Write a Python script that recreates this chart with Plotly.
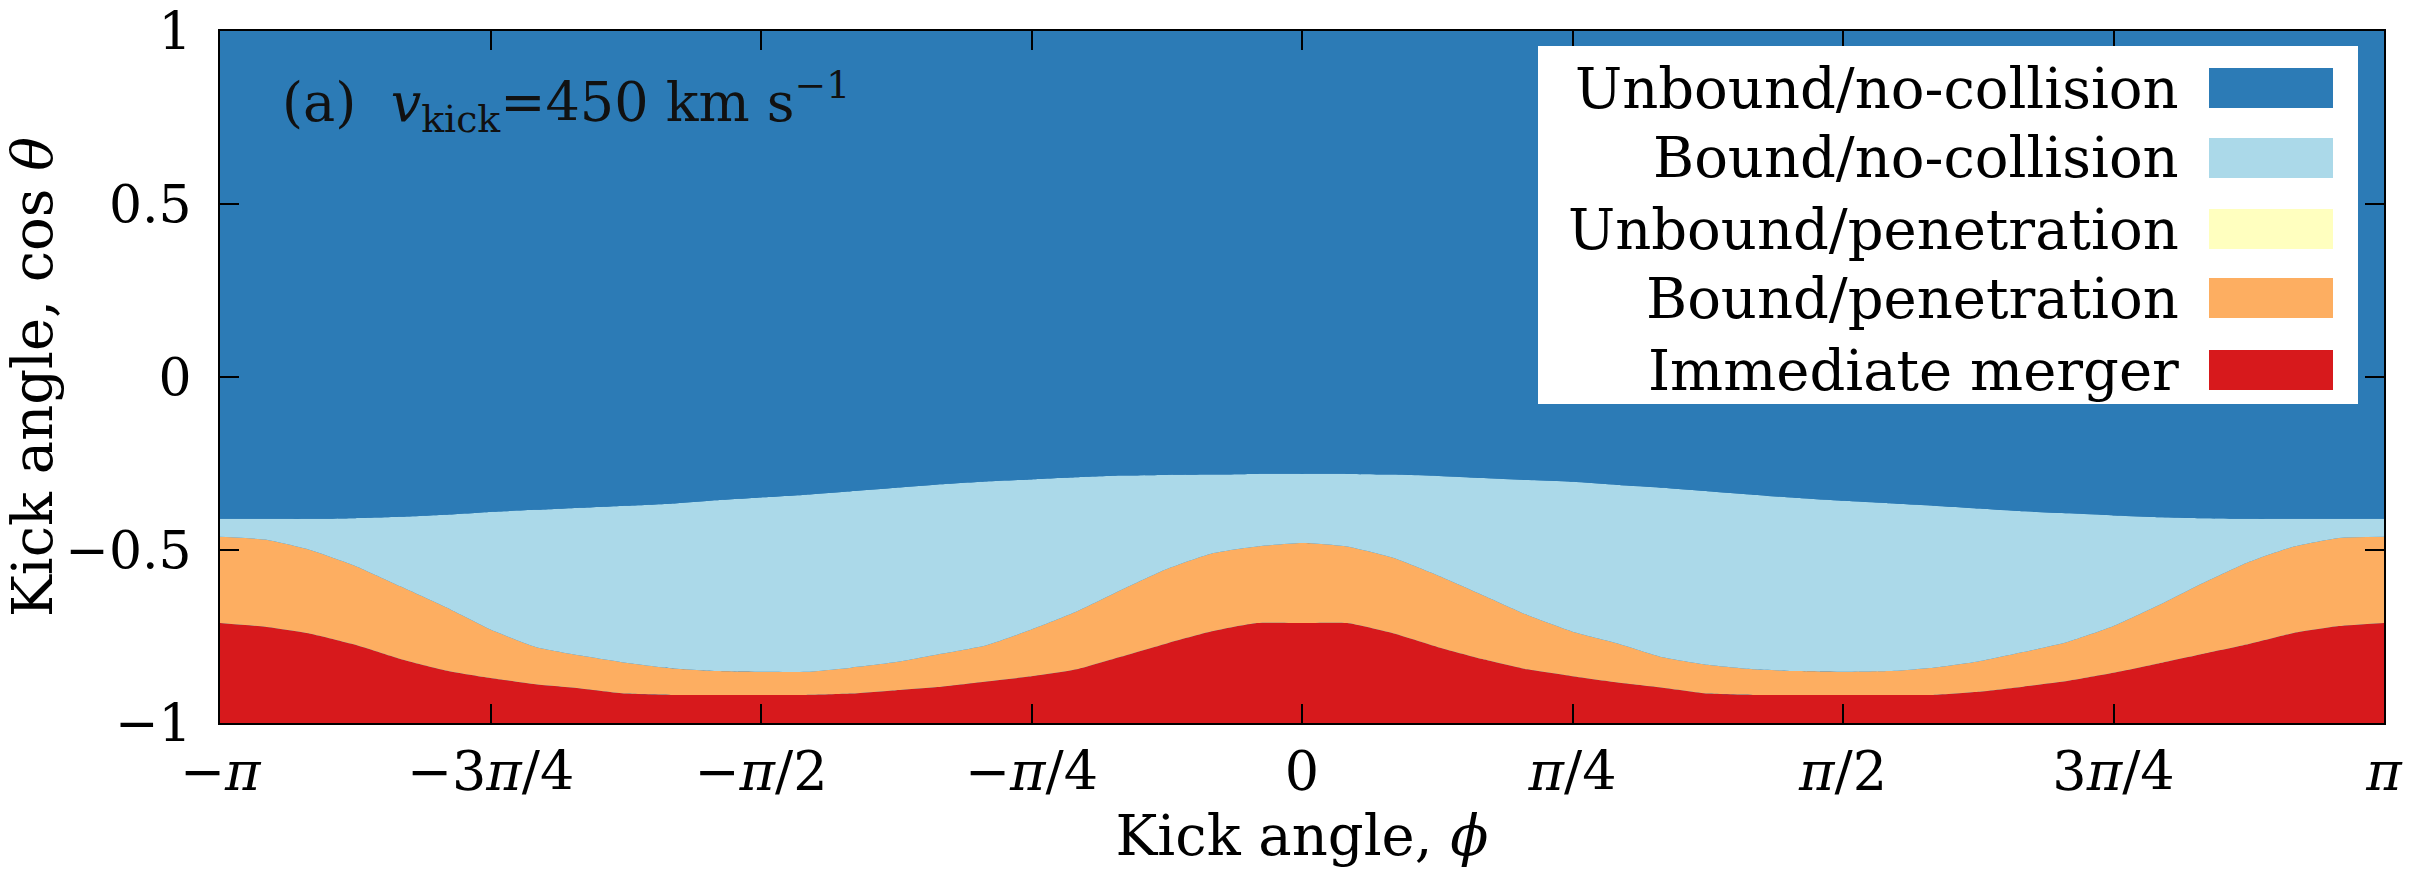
import numpy as np
import plotly.graph_objects as go

# Kick angle phi sampled every pi/24 from -pi to pi (49 samples)
phi = np.linspace(-np.pi, np.pi, 49)

# Boundary between Unbound/no-collision (above) and Bound/no-collision (below), cos(theta)
top_boundary = [-0.41, -0.41, -0.41, -0.408, -0.404, -0.398, -0.39, -0.384, -0.378, -0.372,
                -0.366, -0.356, -0.348, -0.34, -0.33, -0.32, -0.31, -0.302, -0.296, -0.29,
                -0.285, -0.283, -0.282, -0.28, -0.28, -0.28, -0.282, -0.286, -0.292, -0.298,
                -0.303, -0.312, -0.32, -0.33, -0.34, -0.35, -0.358, -0.365, -0.372, -0.38,
                -0.388, -0.394, -0.40, -0.405, -0.408, -0.41, -0.41, -0.41, -0.41]

# Boundary between Bound/no-collision (above) and Bound/penetration (below)
orange_boundary = [-0.462, -0.47, -0.50, -0.546, -0.605, -0.665, -0.73, -0.78, -0.805, -0.826,
                   -0.842, -0.85, -0.852, -0.852, -0.84, -0.824, -0.80, -0.775, -0.73, -0.678,
                   -0.615, -0.555, -0.51, -0.49, -0.48, -0.49, -0.522, -0.573, -0.63, -0.688,
                   -0.736, -0.77, -0.81, -0.832, -0.845, -0.85, -0.852, -0.85, -0.84, -0.822,
                   -0.795, -0.765, -0.72, -0.66, -0.595, -0.535, -0.49, -0.465, -0.462]

# Boundary between Bound/penetration (above) and Immediate merger (below)
red_boundary = [-0.711, -0.722, -0.742, -0.774, -0.815, -0.848, -0.87, -0.888, -0.90, -0.915,
                -0.919, -0.919, -0.919, -0.919, -0.915, -0.905, -0.895, -0.88, -0.865, -0.845,
                -0.808, -0.77, -0.735, -0.711, -0.711, -0.711, -0.74, -0.78, -0.815, -0.845,
                -0.865, -0.883, -0.898, -0.915, -0.919, -0.919, -0.919, -0.919, -0.919, -0.91,
                -0.895, -0.878, -0.855, -0.828, -0.80, -0.772, -0.74, -0.72, -0.711]

categories = ["Unbound/no-collision", "Bound/no-collision", "Unbound/penetration",
              "Bound/penetration", "Immediate merger"]
cat_colors = ["#2c7bb6", "#abd9e9", "#ffffbf", "#fdae61", "#d7191c"]

x_tickvals = [-np.pi, -3*np.pi/4, -np.pi/2, -np.pi/4, 0, np.pi/4, np.pi/2, 3*np.pi/4, np.pi]
x_ticktext = ["−<i>π</i>", "−3<i>π</i>/4", "−<i>π</i>/2", "−<i>π</i>/4", "0",
              "<i>π</i>/4", "<i>π</i>/2", "3<i>π</i>/4", "<i>π</i>"]
y_tickvals = [1, 0.5, 0, -0.5, -1]
y_ticktext = ["1", "0.5", "0", "−0.5", "−1"]

FONT = "DejaVu Serif"

fig = go.Figure()
n = len(phi)
LINE = dict(width=0, shape="spline", smoothing=0.5)
fig.add_trace(go.Scatter(x=phi, y=[-1] * n, mode="lines", line=dict(width=0),
                         showlegend=False, hoverinfo="skip"))
fig.add_trace(go.Scatter(x=phi, y=red_boundary, mode="lines", line=LINE,
                         fill="tonexty", fillcolor=cat_colors[4], showlegend=False, hoverinfo="skip"))
fig.add_trace(go.Scatter(x=phi, y=orange_boundary, mode="lines", line=LINE,
                         fill="tonexty", fillcolor=cat_colors[3], showlegend=False, hoverinfo="skip"))
fig.add_trace(go.Scatter(x=phi, y=top_boundary, mode="lines", line=LINE,
                         fill="tonexty", fillcolor=cat_colors[1], showlegend=False, hoverinfo="skip"))
fig.add_trace(go.Scatter(x=phi, y=[1] * n, mode="lines", line=dict(width=0),
                         fill="tonexty", fillcolor=cat_colors[0], showlegend=False, hoverinfo="skip"))

W, H = 2412, 884
L, R, T, B = 220, 28, 31, 161
pw, ph = W - L - R, H - T - B

def px(X):
    return (X - L) / pw

def py(Y):
    return (H - B - Y) / ph

shapes = [dict(type="rect", xref="paper", yref="paper",
               x0=px(1538), x1=px(2358), y0=py(404), y1=py(46),
               fillcolor="white", line=dict(width=0), layer="above")]
annotations = []
row_centers = [88, 158, 229, 298, 370]
for name, col, yc in zip(categories, cat_colors, row_centers):
    shapes.append(dict(type="rect", xref="paper", yref="paper",
                       x0=px(2209), x1=px(2333), y0=py(yc + 20), y1=py(yc - 20),
                       fillcolor=col, line=dict(width=0), layer="above"))
    annotations.append(dict(text=name, xref="paper", yref="paper", x=px(2181), y=py(yc),
                            xanchor="right", yanchor="middle", showarrow=False,
                            font=dict(family=FONT, size=56, color="black")))

annotations.append(dict(text="(a)  <i>v</i><sub>kick</sub>=450 km s<sup>−1</sup>",
                        xref="paper", yref="paper", x=px(280), y=py(102),
                        xanchor="left", yanchor="middle", showarrow=False,
                        font=dict(family=FONT, size=54, color="#111111")))

fig.update_layout(
    width=W, height=H,
    margin=dict(l=L, r=R, t=T, b=B, pad=0, autoexpand=False),
    paper_bgcolor="white", plot_bgcolor=cat_colors[0],
    font=dict(family=FONT, size=54, color="black"),
    shapes=shapes, annotations=annotations, showlegend=False,
)
fig.update_xaxes(range=[-np.pi, np.pi], tickvals=x_tickvals, ticktext=x_ticktext,
                 ticks="inside", ticklen=19, tickwidth=2, tickcolor="black",
                 showline=True, linecolor="black", linewidth=2, mirror="ticks",
                 showgrid=False, zeroline=False, automargin=False,
                 title=dict(text="Kick angle, <i>ϕ</i>", standoff=12,
                            font=dict(family=FONT, size=56)),
                 tickfont=dict(family=FONT, size=54))
fig.update_yaxes(range=[-1, 1.00001], tickvals=y_tickvals, ticktext=y_ticktext,
                 ticks="inside", ticklen=19, tickwidth=2, tickcolor="black",
                 showline=True, linecolor="black", linewidth=2, mirror="ticks",
                 showgrid=False, zeroline=False, ticklabelstandoff=16, automargin=False,
                 title=dict(text="Kick angle, cos <i>θ</i>", standoff=0,
                            font=dict(family=FONT, size=56)),
                 tickfont=dict(family=FONT, size=52))

fig.write_html("out.html")
